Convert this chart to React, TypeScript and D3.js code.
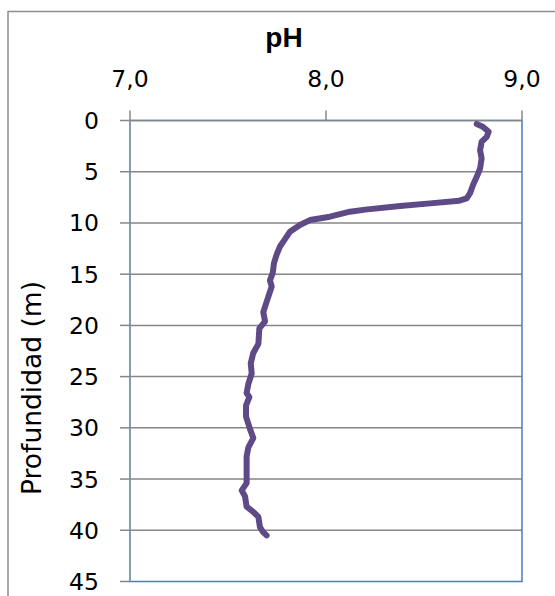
import React from "react";
import * as d3 from "d3";

const depth = [0.34, 0.6, 1.1, 1.6, 2.07, 2.5, 2.9, 3.7, 4.7, 5.5, 6.3, 7.1, 7.6, 7.83, 8.09, 8.35, 8.7, 8.9, 9.39, 9.72, 10.2, 10.86, 11.6, 12.3, 13.1, 13.9, 14.9, 15.6, 16.2, 17.7, 18.7, 19.6, 20.3, 21.8, 22.7, 23.7, 24.7, 25.7, 26.6, 27.0, 27.8, 28.9, 30.1, 31.0, 31.9, 32.8, 34.5, 35.4, 36.1, 36.7, 37.7, 38.2, 38.7, 39.7, 40.2, 40.5];
const ph = [8.769, 8.8, 8.83, 8.82, 8.794, 8.79, 8.786, 8.794, 8.786, 8.769, 8.75, 8.735, 8.718, 8.68, 8.531, 8.378, 8.2, 8.122, 8.02, 7.918, 7.867, 7.816, 7.79, 7.765, 7.748, 7.735, 7.728, 7.714, 7.723, 7.697, 7.68, 7.689, 7.66, 7.655, 7.629, 7.616, 7.621, 7.604, 7.595, 7.609, 7.592, 7.592, 7.612, 7.629, 7.604, 7.595, 7.595, 7.595, 7.57, 7.587, 7.595, 7.629, 7.655, 7.663, 7.68, 7.697];
const xTicks = [7, 8, 9];
const yTicks = [0, 5, 10, 15, 20, 25, 30, 35, 40, 45];
const xTitle = "pH";
const yTitle = "Profundidad (m)";

export default function App() {
  const left = 130, right = 522, top = 120.5, bottom = 581.5;
  const x = d3.scaleLinear().domain([7, 9]).range([left, right]);
  const y = d3.scaleLinear().domain([0, 45]).range([top, bottom]);
  const pts = depth.map((d, i) => [ph[i], d] as [number, number]);
  const line = d3.line<[number, number]>().x(p => x(p[0])).y(p => y(p[1]));
  const tickFont = "'DejaVu Sans', sans-serif";
  const grey = "#868686";
  const fmt = (v: number) => v.toFixed(1).replace(".", ",");
  return (
    <svg width={555} height={596} style={{ position: "absolute", left: 0, top: 0, background: "#fff" }}>
      <rect x={8} y={11.5} width={600} height={620} fill="#fff" stroke="#8c8c8c" strokeWidth={1.5} />
      {yTicks.filter(t => t > 0 && t < 45).map(t => (
        <line key={"g" + t} x1={left} x2={right} y1={y(t)} y2={y(t)} stroke={grey} strokeWidth={1.5} />
      ))}
      <rect x={left} y={top} width={right - left} height={bottom - top} fill="none" stroke="#4a7ebb" strokeWidth={1.5} />
      <line x1={left} x2={right} y1={top} y2={top} stroke={grey} strokeWidth={1.5} />
      <line x1={left} x2={left} y1={top} y2={bottom} stroke="#8a9bb5" strokeWidth={1.5} />
      {xTicks.map(t => (
        <g key={"x" + t}>
          <line x1={x(t)} x2={x(t)} y1={top - 10} y2={top} stroke={grey} strokeWidth={1.5} />
          <text x={x(t)} y={87} textAnchor="middle" fontFamily={tickFont} fontSize={23.5} fill="#000">{fmt(t)}</text>
        </g>
      ))}
      {yTicks.map(t => (
        <g key={"y" + t}>
          <line x1={left - 10} x2={left} y1={y(t)} y2={y(t)} stroke={grey} strokeWidth={1.5} />
          <text x={99} y={y(t) + 8.5} textAnchor="end" fontFamily={tickFont} fontSize={23.5} fill="#000">{t}</text>
        </g>
      ))}
      <text x={284} y={46.7} textAnchor="middle" fontFamily="'Liberation Sans', Arial, sans-serif" fontWeight="bold" fontSize={28} fill="#000">{xTitle}</text>
      <text transform={`translate(41,388) rotate(-90)`} textAnchor="middle" fontFamily={tickFont} fontSize={26.5} fill="#000">{yTitle}</text>
      <path d={line(pts) || ""} fill="none" stroke="#5e4a86" strokeWidth={6} strokeLinejoin="round" strokeLinecap="round" />
    </svg>
  );
}
